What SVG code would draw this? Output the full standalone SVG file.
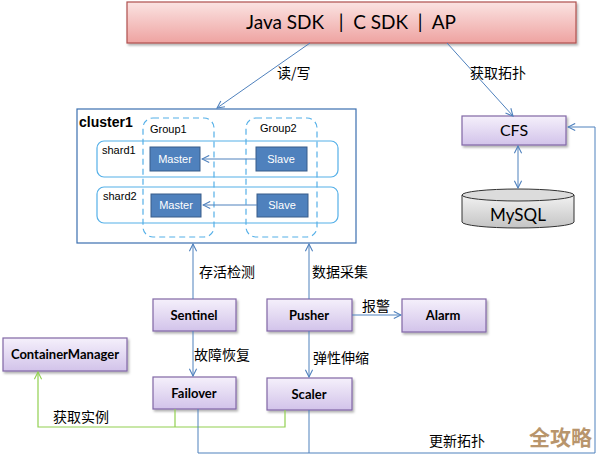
<svg xmlns="http://www.w3.org/2000/svg" width="598" height="454" viewBox="0 0 598 454">
<defs>
<linearGradient id="gP" x1="0" y1="0" x2="0" y2="1"><stop offset="0" stop-color="#f5f0fb"/><stop offset="1" stop-color="#d2c3ea"/></linearGradient>
<linearGradient id="gR" x1="0" y1="0" x2="0" y2="1"><stop offset="0" stop-color="#fbe3e2"/><stop offset="1" stop-color="#eea3a1"/></linearGradient>
<linearGradient id="gG" x1="0" y1="0" x2="0" y2="1"><stop offset="0" stop-color="#f2f2f2"/><stop offset="1" stop-color="#c4c4c4"/></linearGradient>
<marker id="ab" viewBox="0 0 10 10" refX="9" refY="5" markerWidth="9" markerHeight="9" markerUnits="userSpaceOnUse" orient="auto-start-reverse"><path d="M1,1 L9,5 L1,9" fill="none" stroke="#4f81bd" stroke-width="1.2"/></marker>
<marker id="ag" viewBox="0 0 10 10" refX="9" refY="5" markerWidth="9" markerHeight="9" markerUnits="userSpaceOnUse" orient="auto"><path d="M1,1 L9,5 L1,9" fill="none" stroke="#92d050" stroke-width="1.2"/></marker>
<filter id="sh" x="-10%" y="-10%" width="130%" height="140%"><feDropShadow dx="1.5" dy="2" stdDeviation="1" flood-color="#000" flood-opacity="0.3"/></filter>
</defs>
<style>
.pb{fill:url(#gP);stroke:#8167a6;stroke-width:1.2;filter:url(#sh)}
.nt{font-family:Lato,"Open Sans","Liberation Sans",sans-serif;font-weight:bold;font-size:13px;fill:#000;text-anchor:middle}
.ms{fill:#4f81bd;stroke:#385d8a;stroke-width:1}
.mt{font-family:"Liberation Sans",Arial,sans-serif;font-size:11px;fill:#fff;text-anchor:middle}
.st{font-family:"Liberation Sans",Arial,sans-serif;font-size:11px;fill:#000}
.cn{font-family:"Noto Sans CJK SC","Noto Sans",sans-serif;font-size:14px;fill:#000}
.e{fill:none;stroke:#4f81bd;stroke-width:1}
.eg{fill:none;stroke:#92d050;stroke-width:1.2}
.dash{fill:none;stroke:#55b0e8;stroke-width:1.2;stroke-dasharray:6,4}
.shd{fill:none;stroke:#55b0e8;stroke-width:1.2}
</style>
<g id="sdk"><rect x="127" y="2" width="449" height="41" fill="url(#gR)" stroke="#b0504e" stroke-width="1.2" filter="url(#sh)"/>
<text x="351" y="29" font-family="Lato,'Open Sans','Liberation Sans',sans-serif" font-size="19" text-anchor="middle" xml:space="preserve">Java SDK   |  C SDK  |  AP</text></g>
<g id="cluster1"><rect x="77" y="109" width="279" height="134" fill="#fff" stroke="#3b6fb0" stroke-width="1.2"/>
<text x="79" y="127" font-family="'Liberation Sans',Arial,sans-serif" font-size="14" font-weight="bold">cluster1</text>
<rect class="dash" x="143" y="118" width="71" height="119" rx="10"/>
<rect class="dash" x="246" y="118" width="71" height="119" rx="10"/>
<text class="st" x="150" y="133">Group1</text>
<text class="st" x="260" y="132">Group2</text>
<rect class="shd" x="97" y="141" width="241" height="36" rx="7"/>
<rect class="shd" x="97" y="187" width="241" height="36" rx="7"/>
<text class="st" x="102" y="154">shard1</text>
<text class="st" x="103" y="200">shard2</text>
</g>
<g id="master1"><rect class="ms" x="150" y="147" width="50" height="24"/><text class="mt" x="175" y="163">Master</text></g>
<g id="slave1"><rect class="ms" x="256" y="147" width="51" height="24"/><text class="mt" x="281" y="163">Slave</text></g>
<g id="master2"><rect class="ms" x="151" y="194" width="50" height="23"/><text class="mt" x="176" y="209">Master</text></g>
<g id="slave2"><rect class="ms" x="257" y="194" width="51" height="23"/><text class="mt" x="282" y="209">Slave</text></g>
<g id="cfs"><rect class="pb" x="462" y="116" width="104" height="29"/><text x="514" y="136" font-family="Lato,'Open Sans','Liberation Sans',sans-serif" font-size="16" text-anchor="middle">CFS</text></g>
<g id="mysql"><path d="M462,195 L462,222 A56,6 0 0 0 574,222 L574,195" fill="url(#gG)" stroke="#333" stroke-width="1"/>
<ellipse cx="518" cy="195" rx="56" ry="6" fill="#dcdcdc" stroke="#333" stroke-width="1"/>
<text x="518" y="221" font-family="Lato,'Open Sans','Liberation Sans',sans-serif" font-size="17" text-anchor="middle">MySQL</text></g>
<g id="sentinel"><rect class="pb" x="153" y="299" width="83" height="32"/><text class="nt" x="194" y="320">Sentinel</text></g>
<g id="pusher"><rect class="pb" x="267" y="299" width="85" height="32"/><text class="nt" x="309" y="320">Pusher</text></g>
<g id="alarm"><rect class="pb" x="402" y="299" width="84" height="33"/><text class="nt" x="443" y="320">Alarm</text></g>
<g id="failover"><rect class="pb" x="153" y="377" width="83" height="32"/><text class="nt" x="194" y="398">Failover</text></g>
<g id="scaler"><rect class="pb" x="267" y="378" width="85" height="32"/><text class="nt" x="309" y="399">Scaler</text></g>
<g id="containermanager"><rect class="pb" x="3" y="338" width="124" height="33"/><text class="nt" x="65" y="359">ContainerManager</text></g>
<g id="connectors">
<line class="e" x1="310" y1="43" x2="217" y2="108" marker-end="url(#ab)"/>
<line class="e" x1="447" y1="43" x2="513" y2="116" marker-end="url(#ab)"/>
<line class="e" x1="518" y1="146" x2="518" y2="188" marker-start="url(#ab)" marker-end="url(#ab)"/>
<line class="e" x1="256" y1="159" x2="202" y2="159" marker-end="url(#ab)"/>
<line class="e" x1="257" y1="205" x2="203" y2="205" marker-end="url(#ab)"/>
<line class="e" x1="193" y1="299" x2="193" y2="244" marker-end="url(#ab)"/>
<line class="e" x1="309" y1="299" x2="309" y2="244" marker-end="url(#ab)"/>
<line class="e" x1="352" y1="315" x2="401" y2="315" marker-end="url(#ab)"/>
<line class="e" x1="193" y1="331" x2="193" y2="376" marker-end="url(#ab)"/>
<line class="e" x1="309" y1="331" x2="309" y2="377" marker-end="url(#ab)"/>
<path class="eg" d="M175,409 V427 M285,410 V427 H38 V372" marker-end="url(#ag)"/>
<path class="e" d="M198,409 V453 H595 V127 H568" marker-end="url(#ab)"/>
<line class="e" x1="309" y1="410" x2="309" y2="453"/>
</g>
<g id="labels">
<text class="cn" x="277" y="78">读/写</text>
<text class="cn" x="470" y="78">获取拓扑</text>
<text class="cn" x="199" y="277">存活检测</text>
<text class="cn" x="312" y="277">数据采集</text>
<text class="cn" x="362" y="311">报警</text>
<text class="cn" x="194" y="360">故障恢复</text>
<text class="cn" x="313" y="363">弹性伸缩</text>
<text class="cn" x="53" y="422">获取实例</text>
<text class="cn" x="429" y="446">更新拓扑</text>
<text x="529" y="445" font-family="'Noto Sans CJK SC',sans-serif" font-size="21" font-weight="bold" fill="#b8956c">全攻略</text>
</g>
</svg>
